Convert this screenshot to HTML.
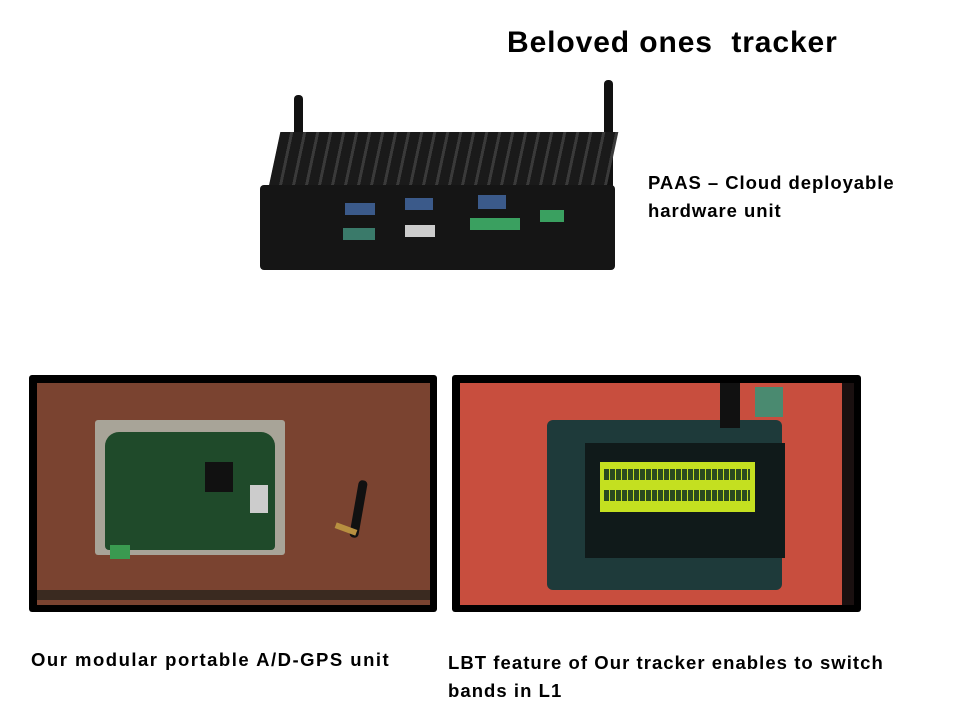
<!DOCTYPE html>
<html><head><meta charset="utf-8"><style>
body{margin:0;width:958px;height:725px;background:#fff;position:relative;overflow:hidden;font-family:"Liberation Sans",sans-serif;font-weight:bold;color:#000}
.a{position:absolute}
.t{position:absolute;white-space:nowrap}
</style></head><body>
<div class="t" style="left:507px;top:26px;font-size:30px;letter-spacing:0.9px">Beloved ones&nbsp; tracker</div>
<div class="t" style="left:648px;top:169px;font-size:18.5px;line-height:28px;letter-spacing:0.95px">PAAS – Cloud deployable<br>hardware unit</div>

<!-- device -->
<div class="a" style="left:294px;top:95px;width:9px;height:150px;background:#111;border-radius:4px"></div>
<div class="a" style="left:604px;top:80px;width:9px;height:110px;background:#111;border-radius:4px"></div>
<div class="a" style="left:268px;top:132px;width:338px;height:58px;background:repeating-linear-gradient(90deg,#1a1a1a 0 10px,#3a3a3a 10px 13px);transform:skewX(-12deg);transform-origin:bottom"></div>
<div class="a" style="left:260px;top:185px;width:355px;height:85px;background:#151515;border-radius:4px"></div>
<div class="a" style="left:345px;top:203px;width:30px;height:12px;background:#3b5a8a"></div>
<div class="a" style="left:405px;top:198px;width:28px;height:12px;background:#3b5a8a"></div>
<div class="a" style="left:343px;top:228px;width:32px;height:12px;background:#3a7a6a"></div>
<div class="a" style="left:405px;top:225px;width:30px;height:12px;background:#ccc"></div>
<div class="a" style="left:478px;top:195px;width:28px;height:14px;background:#3b5a8a"></div>
<div class="a" style="left:470px;top:218px;width:50px;height:12px;background:#3aa060"></div>
<div class="a" style="left:540px;top:210px;width:24px;height:12px;background:#3aa060"></div>

<!-- left photo -->
<div class="a" style="left:29px;top:375px;width:408px;height:237px;background:#000;border-radius:3px"></div>
<div class="a" style="left:37px;top:383px;width:393px;height:222px;background:#7a4330"></div>
<div class="a" style="left:37px;top:590px;width:393px;height:10px;background:#3a2a20"></div>
<div class="a" style="left:95px;top:420px;width:190px;height:135px;background:#a8a498;border-radius:3px"></div>
<div class="a" style="left:105px;top:432px;width:170px;height:118px;background:#1f4a2a;border-radius:14px 14px 4px 4px"></div>
<div class="a" style="left:205px;top:462px;width:28px;height:30px;background:#111"></div>
<div class="a" style="left:250px;top:485px;width:18px;height:28px;background:#ccc"></div>
<div class="a" style="left:110px;top:545px;width:20px;height:14px;background:#3a9a50"></div>
<div class="a" style="left:354px;top:480px;width:9px;height:58px;background:#111;border-radius:4px;transform:rotate(10deg)"></div>
<div class="a" style="left:335px;top:526px;width:22px;height:6px;background:#b89040;transform:rotate(20deg)"></div>

<!-- right photo -->
<div class="a" style="left:452px;top:375px;width:409px;height:237px;background:#000;border-radius:3px"></div>
<div class="a" style="left:460px;top:383px;width:382px;height:222px;background:#c84e3e"></div>
<div class="a" style="left:842px;top:383px;width:12px;height:222px;background:#1a1010"></div>
<div class="a" style="left:547px;top:420px;width:235px;height:170px;background:#1e3a3a;border-radius:6px"></div>
<div class="a" style="left:585px;top:443px;width:200px;height:115px;background:#101a1a"></div>
<div class="a" style="left:600px;top:462px;width:155px;height:50px;background:#c4e020"></div>
<div class="a" style="left:604px;top:469px;width:146px;height:11px;background:repeating-linear-gradient(90deg,#2a4a20 0 5px,#c4e020 5px 6px)"></div>
<div class="a" style="left:604px;top:490px;width:146px;height:11px;background:repeating-linear-gradient(90deg,#2a4a20 0 5px,#c4e020 5px 6px)"></div>
<div class="a" style="left:720px;top:383px;width:20px;height:45px;background:#111"></div>
<div class="a" style="left:755px;top:387px;width:28px;height:30px;background:#4a8a70"></div>

<div class="t" style="left:31px;top:649px;font-size:18.5px;letter-spacing:1.5px">Our modular portable A/D-GPS unit</div>
<div class="t" style="left:448px;top:649px;font-size:18.5px;line-height:28px;letter-spacing:1.05px">LBT feature of Our tracker enables to switch<br>bands in L1</div>
</body></html>
